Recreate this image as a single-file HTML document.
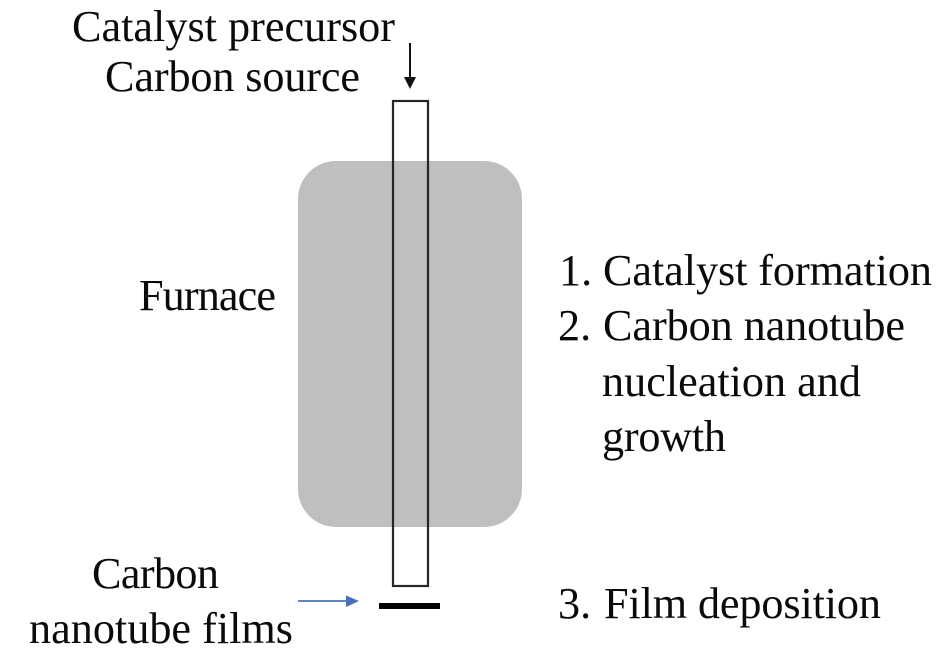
<!DOCTYPE html>
<html>
<head>
<meta charset="utf-8">
<style>
html,body{margin:0;padding:0;background:#fff;width:944px;height:652px;overflow:hidden}
svg{display:block}
text{font-family:"Liberation Serif",serif;font-size:44.2px;fill:#0a0a0a}
</style>
</head>
<body>
<svg width="944" height="652" viewBox="0 0 944 652" xmlns="http://www.w3.org/2000/svg">
<rect width="944" height="652" fill="#fff"/>
<rect x="298" y="161" width="224" height="366" rx="38" ry="38" fill="#bfbfbf"/>
<rect x="393" y="101" width="35" height="485" fill="none" stroke="#262626" stroke-width="2.2"/>
<line x1="410" y1="43" x2="410" y2="78" stroke="#111" stroke-width="2"/>
<polygon points="404,77 416,77 410,89" fill="#111"/>
<rect x="379" y="603" width="61" height="6" fill="#000"/>
<line x1="298" y1="601" x2="347" y2="601" stroke="#4472b4" stroke-width="1.8"/>
<polygon points="346,595.5 359,601 346,607" fill="#4472b4"/>
<text x="72" y="41" textLength="323" lengthAdjust="spacing">Catalyst precursor</text>
<text x="105" y="91" textLength="255" lengthAdjust="spacing">Carbon source</text>
<text x="139" y="310" textLength="137" lengthAdjust="spacing">Furnace</text>
<text x="559" y="285">1.</text>
<text x="603" y="285" textLength="329" lengthAdjust="spacing">Catalyst formation</text>
<text x="558" y="340">2.</text>
<text x="603" y="340" textLength="302" lengthAdjust="spacing">Carbon nanotube</text>
<text x="602" y="396" textLength="259" lengthAdjust="spacing">nucleation and</text>
<text x="602" y="451" textLength="124" lengthAdjust="spacing">growth</text>
<text x="558" y="618">3.</text>
<text x="604" y="618" textLength="277" lengthAdjust="spacing">Film deposition</text>
<text x="92" y="588" textLength="127" lengthAdjust="spacing">Carbon</text>
<text x="29" y="643" textLength="264" lengthAdjust="spacing">nanotube films</text>
</svg>
</body>
</html>
